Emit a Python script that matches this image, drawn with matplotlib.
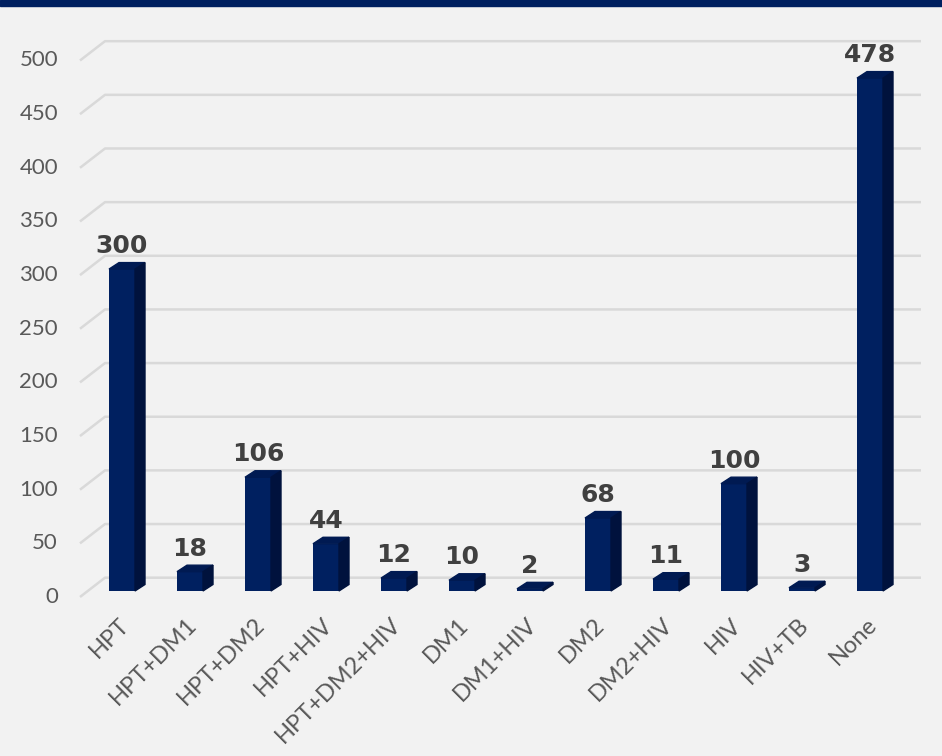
import matplotlib
matplotlib.use("Agg")
import matplotlib.pyplot as plt
from matplotlib.patches import Polygon, Rectangle

# data
categories = ["HPT", "HPT+DM1", "HPT+DM2", "HPT+HIV", "HPT+DM2+HIV", "DM1",
              "DM1+HIV", "DM2", "DM2+HIV", "HIV", "HIV+TB", "None"]
counts = [300, 18, 106, 44, 12, 10, 2, 68, 11, 100, 3, 478]
y_ticks = [0, 50, 100, 150, 200, 250, 300, 350, 400, 450, 500]

W, H = 942, 756
BG = "#f2f2f2"
NAVY = "#002060"
TOP = "#001a52"
SIDE = "#00123d"
GRID = "#d9d9d9"
TXT = "#595959"

# pixel geometry -> data units (category slot = 68 px, 1 unit = 1.073 px)
PX_X = 68.0
PX_Y = 1.073
x0_px, y0_px = 122.0, 597.0


def px_x(px):
    return (px - x0_px) / PX_X


def px_y(py):
    return (y0_px - py) / PX_Y


fig = plt.figure(figsize=(W / 100, H / 100), dpi=100, facecolor=BG)
ax = fig.add_axes([0, 0, 1, 1])
ax.set_facecolor(BG)
ax.set_xlim(px_x(0), px_x(W))
ax.set_ylim(px_y(H), px_y(0))
ax.axis("off")

# top band
fig.patches.append(Rectangle((0, 1 - 6 / H), 1, 6 / H, transform=fig.transFigure,
                             color=NAVY, zorder=10))

# back-wall gridlines with left perspective edge
wall = 18.0
for v in y_ticks:
    ax.plot([px_x(80), px_x(105), px_x(921)], [v, v + wall, v + wall],
            color=GRID, lw=1.8, zorder=1, solid_capstyle="butt")
    ax.text(px_x(58), v, str(v), ha="right", va="center", fontsize=16,
            color=TXT, family="Lato")

# pseudo-3D bars
half = 13 / PX_X
dx = 10 / PX_X
dy = 6.5 / PX_Y
base = 5.6
xs = list(range(len(categories)))
ax.bar(xs, counts, width=2 * half, bottom=base, color=NAVY, zorder=3)
for x, v in zip(xs, counts):
    top = base + v
    ax.add_patch(Polygon([(x - half, top), (x + half, top),
                          (x + half + dx, top + dy), (x - half + dx, top + dy)],
                         closed=True, color=TOP, zorder=3))
    ax.add_patch(Polygon([(x + half, base), (x + half + dx, base + dy),
                          (x + half + dx, top + dy), (x + half, top)],
                         closed=True, color=SIDE, zorder=3))
    ax.text(x, top + dy + 9, str(v), ha="center", va="baseline", fontsize=18,
            fontweight="bold", color="#404040", zorder=4)

for x, name in zip(xs, categories):
    ax.text(x - 4 / PX_X, px_y(614), name, rotation=45, rotation_mode="anchor",
            ha="right", va="top", fontsize=17, color=TXT, family="Lato")

fig.savefig("out.png", dpi=100, facecolor=BG)
